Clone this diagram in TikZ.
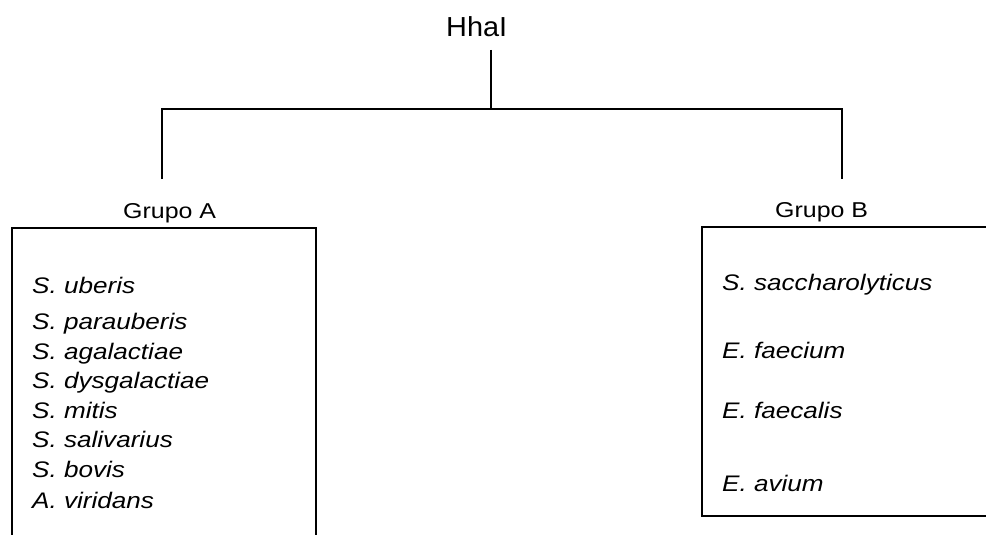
\documentclass[tikz,border=0pt]{standalone}
\usepackage{fontspec}
\setmainfont{Liberation Sans}[FakeStretch=1.16]
\newfontfamily\titlefont{Liberation Sans}[FakeStretch=1.05]
\begin{document}
\begin{tikzpicture}[x=1pt,y=-1pt,
  lbl/.style={anchor=base west,inner sep=0pt,font=\fontsize{21.5}{24}\selectfont},
  sp/.style={lbl,font=\fontsize{22.5}{25}\selectfont\itshape},
  ln/.style={line width=2pt,black}]
\useasboundingbox (0,0) rectangle (986,535);
\clip (0,0) rectangle (986,535);
% title
\node[anchor=base west,inner sep=0pt,font=\titlefont\fontsize{27.5}{30}\selectfont] (hha) at (446,37) {HhaI};
\coordinate (top) at (490.5,50);
\coordinate (mid) at (490.5,109);
\coordinate (jl) at (162,109);
\coordinate (jr) at (842,109);
\coordinate (el) at (162,179);
\coordinate (er) at (842,179);
\draw[ln] (top) -- (mid);
\draw[ln] (el) -- (jl) -- (jr) -- (er);
% group labels
\node[lbl] (ga) at (123,218) {Grupo A};
\node[lbl] (gb) at (775,217) {Grupo B};
% boxes
\coordinate (a1) at (12,545);
\coordinate (a2) at (12,228);
\coordinate (a3) at (316,228);
\coordinate (a4) at (316,545);
\draw[ln] (a1) -- (a2) -- (a3) -- (a4);
\coordinate (b1) at (995,227);
\coordinate (b2) at (702,227);
\coordinate (b3) at (702,516);
\coordinate (b4) at (995,516);
\draw[ln] (b1) -- (b2) -- (b3) -- (b4);
% group A list
\node[sp] (a-ub) at (32,293) {S. uberis};
\node[sp] (a-pa) at (32,329) {S. parauberis};
\node[sp] (a-ag) at (32,359) {S. agalactiae};
\node[sp] (a-dy) at (32,388) {S. dysgalactiae};
\node[sp] (a-mi) at (32,418) {S. mitis};
\node[sp] (a-sa) at (32,447) {S. salivarius};
\node[sp] (a-bo) at (32,477) {S. bovis};
\node[sp] (a-vi) at (32,508) {A. viridans};
% group B list
\node[sp] (b-sa) at (722,290) {S. saccharolyticus};
\node[sp] (b-fm) at (722,358) {E. faecium};
\node[sp] (b-fl) at (722,418) {E. faecalis};
\node[sp] (b-av) at (722,491) {E. avium};
\end{tikzpicture}
\end{document}
